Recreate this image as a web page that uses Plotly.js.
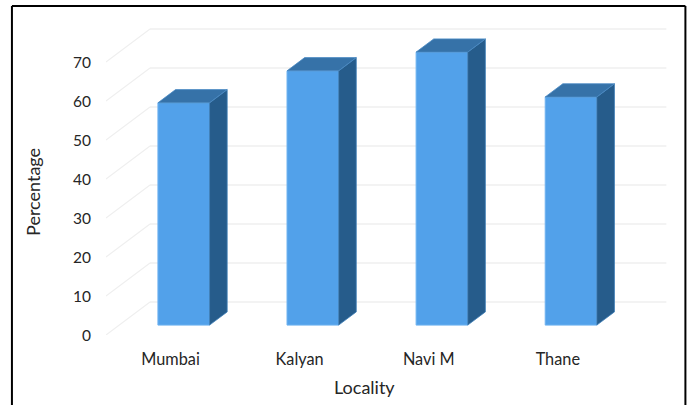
<!DOCTYPE html>
<html>
<head>
<meta charset="utf-8">
<script src="https://cdn.plot.ly/plotly-3.0.1.min.js"></script>
<style>html,body{margin:0;padding:0;background:#fff;overflow:hidden}</style>
</head>
<body>
<div id="chart" style="width:688px;height:405px"></div>
<script>
const categories = ["Mumbai", "Kalyan", "Navi M", "Thane"];
const percentages = [57, 65.2, 70, 58.5];
const yTicks = [0, 10, 20, 30, 40, 50, 60, 70];
const xAxisTitle = "Locality";
const yAxisTitle = "Percentage";

// Oblique projection of the pseudo-3D box, in axis units
const DEPTH_X = 0.341, DEPTH_Y = 8.46;
const FRONT = 0.3, BACK = 0.7, HALF = 0.2;
const W = 688, H = 405;
const M = {l: 106, r: 14.4, t: 23, b: 70};
const FONT = "Lato, Carlito, Calibri, sans-serif";
const TXT = "#262626";

const px = (v, t) => v + DEPTH_X * t;
const py = (v, t) => v + DEPTH_Y * t;

const side = {x: [], y: []}, top3d = {x: [], y: []};
categories.forEach((c, i) => {
  const v = percentages[i], r = i + HALF;
  side.x.push(px(r, FRONT), px(r, BACK), px(r, BACK), px(r, FRONT), px(r, FRONT), null);
  side.y.push(py(0, FRONT), py(0, BACK), py(v, BACK), py(v, FRONT), py(0, FRONT), null);
  const l = i - HALF;
  top3d.x.push(px(l, FRONT), px(l, BACK), px(r, BACK), px(r, FRONT), px(l, FRONT), null);
  top3d.y.push(py(v, FRONT), py(v, BACK), py(v, BACK), py(v, FRONT), py(v, FRONT), null);
});

const traces = [
  {type: "bar", x: categories.map((c, i) => px(i, FRONT)), y: percentages, base: py(0, FRONT),
   width: 2 * HALF, marker: {color: "#52a1ea", line: {color: "#6db2f0", width: 1}}, hoverinfo: "skip"},
  {type: "scatter", mode: "lines", x: side.x, y: side.y, fill: "toself", fillcolor: "#265c8b",
   line: {color: "#3f7fb8", width: 0.8}, hoverinfo: "skip"},
  {type: "scatter", mode: "lines", x: top3d.x, y: top3d.y, fill: "toself", fillcolor: "#3672a8",
   line: {color: "#4a8ac4", width: 0.8}, hoverinfo: "skip"}
];

const xL = -0.5, xR = categories.length - 0.5;
const plotW = W - M.l - M.r, plotH = H - M.t - M.b;
const shapes = [];
yTicks.forEach(v => {
  shapes.push({type: "line", layer: "below", xref: "x", yref: "y",
    x0: px(xR, 1), x1: px(xL, 1), y0: py(v, 1), y1: py(v, 1), line: {color: "#efefef", width: 1.4}});
  shapes.push({type: "line", layer: "below", xref: "x", yref: "y",
    x0: px(xL, 0), x1: px(xL, 1), y0: py(v, 0), y1: py(v, 1), line: {color: "#efefef", width: 1.2}});
});
// Frame of the picture: left, top and right sides only
const fx = p => (p - M.l) / plotW, fy = p => 1 - (p - M.t) / plotH;
[[12, 6, 12, 405], [12, 6, 685, 6], [685, 6, 685, 405]].forEach(s => {
  shapes.push({type: "line", layer: "above", xref: "paper", yref: "paper",
    x0: fx(s[0]), y0: fy(s[1]), x1: fx(s[2]), y1: fy(s[3]), line: {color: "#000", width: 2}});
});

const layout = {
  width: W, height: H, margin: M, showlegend: false,
  paper_bgcolor: "#fff", plot_bgcolor: "#fff",
  font: {family: FONT, size: 15, color: TXT},
  xaxis: {range: [-0.5, 3.9], tickmode: "array", tickvals: categories.map((c, i) => i), ticktext: categories,
    tickfont: {family: FONT, size: 16.3, color: TXT},
    showgrid: false, zeroline: false, showline: false, ticks: "", ticklabelstandoff: 13, fixedrange: true},
  yaxis: {range: [0, 80], tickmode: "array", tickvals: yTicks, ticktext: yTicks.map(String),
    tickfont: {family: FONT, size: 15.5, color: TXT},
    showgrid: false, zeroline: false, showline: false, ticks: "", ticklabelstandoff: 14, ticklabelshift: 1, fixedrange: true},
  shapes: shapes,
  annotations: [
    {text: xAxisTitle, xref: "paper", yref: "paper", x: fx(364), y: fy(387), showarrow: false,
     xanchor: "center", yanchor: "middle", font: {family: FONT, size: 18, color: TXT}},
    {text: yAxisTitle, xref: "paper", yref: "paper", x: fx(33), y: fy(192), showarrow: false, textangle: -90,
     xanchor: "center", yanchor: "middle", font: {family: FONT, size: 18, color: TXT}}
  ]
};
Plotly.newPlot("chart", traces, layout, {displayModeBar: false, staticPlot: true});
</script>
</body>
</html>
